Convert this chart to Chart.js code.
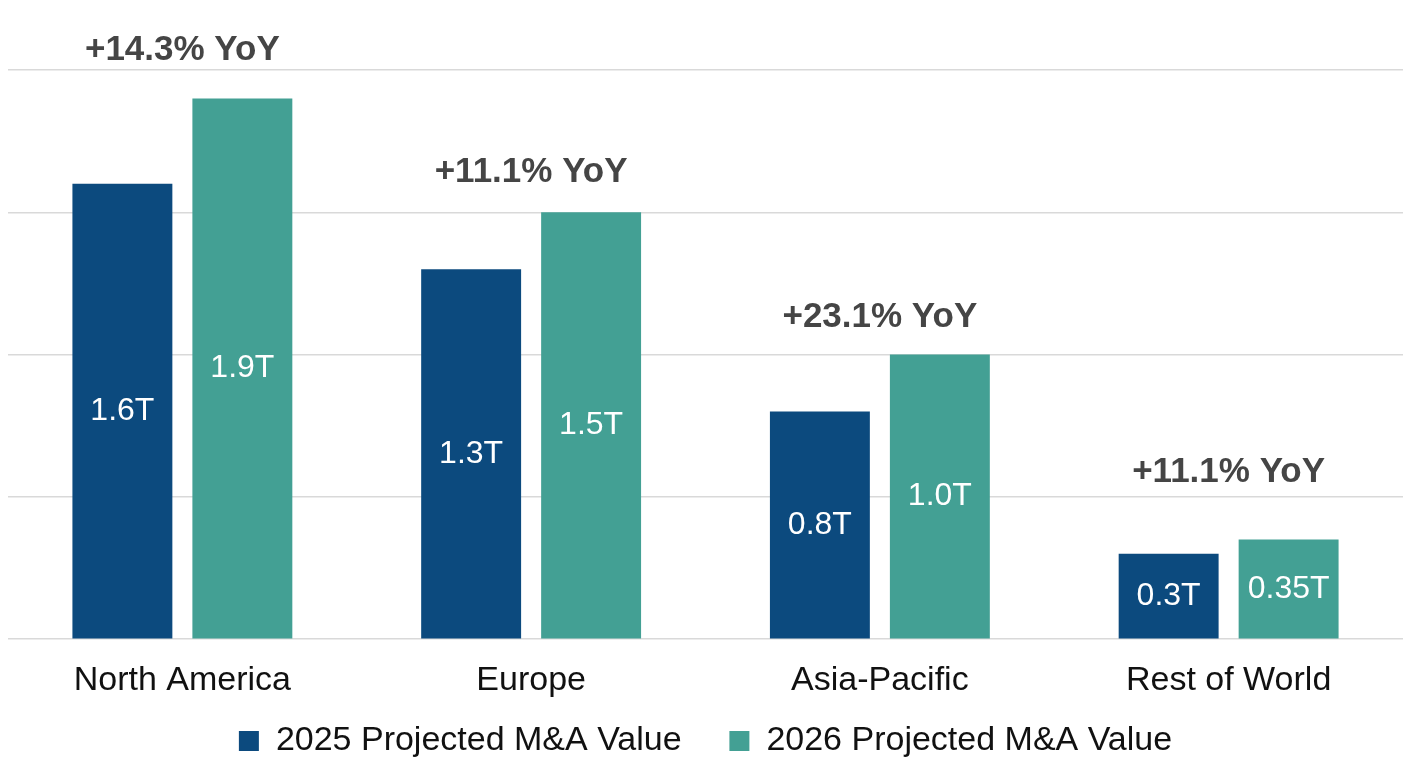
<!DOCTYPE html>
<html>
<head>
<meta charset="utf-8">
<script src="https://cdn.jsdelivr.net/npm/chart.js@4.4.1/dist/chart.umd.min.js"></script>
<style>
  html, body { margin: 0; padding: 0; background: #fff; }
  #wrap { width: 1408px; height: 768px; }
</style>
</head>
<body>
<div id="wrap"><canvas id="chart"></canvas></div>
<script>
// data
const regions = ["North America", "Europe", "Asia-Pacific", "Rest of World"];
const value2025 = [1.6, 1.3, 0.8, 0.3];
const value2026 = [1.9, 1.5, 1.0, 0.35];
const label2025 = ["1.6T", "1.3T", "0.8T", "0.3T"];
const label2026 = ["1.9T", "1.5T", "1.0T", "0.35T"];
const yoyLabels = ["+14.3% YoY", "+11.1% YoY", "+23.1% YoY", "+11.1% YoY"];

const darkBlue = "#0c4a7e";
const teal = "#43a094";
const fontName = "'Liberation Sans', Arial, sans-serif";

// writes the value inside each bar and the YoY note above each group
const barText = {
  id: "barText",
  afterDatasetsDraw(chart) {
    const ctx = chart.ctx;
    const texts = [label2025, label2026];
    const gap = [48, 40, 37, 67]; // note distance above the taller bar
    ctx.save();
    ctx.textAlign = "center";
    ctx.textBaseline = "middle";
    ctx.fillStyle = "#ffffff";
    ctx.font = "32px " + fontName;
    chart.data.datasets.forEach((ds, d) => {
      chart.getDatasetMeta(d).data.forEach((bar, i) => {
        ctx.fillText(texts[d][i], bar.x, (bar.y + bar.base) / 2);
      });
    });
    ctx.fillStyle = "#454545";
    ctx.font = "bold 35px " + fontName;
    const m = chart.getDatasetMeta(1).data;
    const x = chart.scales.x;
    yoyLabels.forEach((t, i) => {
      ctx.fillText(t, x.getPixelForValue(i), m[i].y - gap[i]);
    });
    ctx.restore();
  }
};

new Chart(document.getElementById("chart"), {
  type: "bar",
  data: {
    labels: regions,
    datasets: [
      { label: "2025 Projected M&A Value", data: value2025, backgroundColor: darkBlue },
      { label: "2026 Projected M&A Value", data: value2026, backgroundColor: teal }
    ]
  },
  options: {
    responsive: true,
    maintainAspectRatio: false,
    animation: false,
    categoryPercentage: 0.688,
    barPercentage: 0.833,
    layout: { padding: { left: 8, right: 5, top: 70, bottom: 0 } },
    plugins: {
      tooltip: { enabled: false },
      legend: {
        position: "bottom",
        labels: {
          boxWidth: 20,
          boxHeight: 20,
          padding: 10,
          color: "#111",
          font: { family: fontName, size: 34 },
          generateLabels(chart) {
            // wider space between the two legend entries
            const items = Chart.defaults.plugins.legend.labels.generateLabels(chart);
            items[0].text += "    ";
            return items;
          }
        }
      }
    },
    scales: {
      x: {
        grid: { display: false },
        border: { display: false },
        ticks: { color: "#111", font: { family: fontName, size: 34 }, padding: 13 }
      },
      y: {
        min: 0,
        max: 2,
        ticks: { display: false, stepSize: 0.5 },
        grid: { color: "#d9d9d9", lineWidth: 1.5, drawTicks: false },
        border: { display: false }
      }
    }
  },
  plugins: [barText]
});
</script>
</body>
</html>
